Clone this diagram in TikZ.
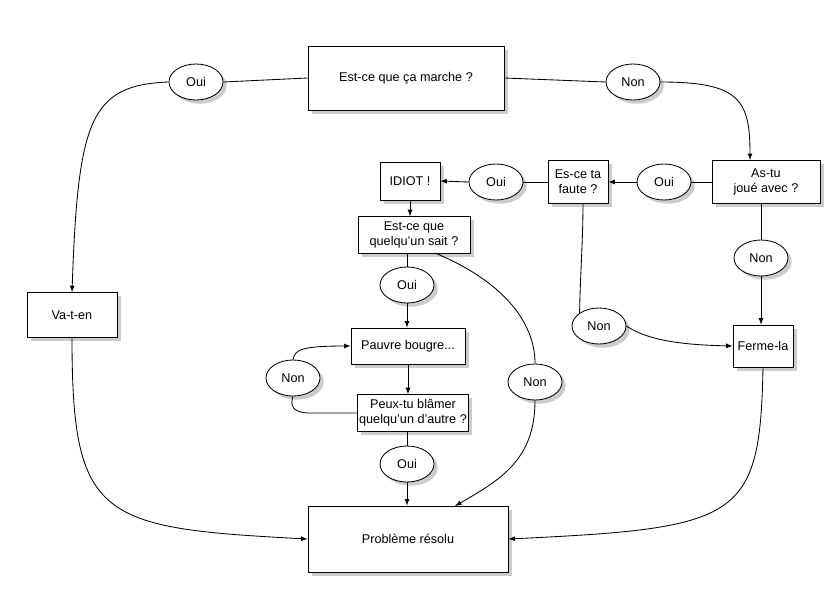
\documentclass[tikz,border=0pt]{standalone}
\usepackage{fontspec}
\setmainfont{Liberation Sans}
\usetikzlibrary{shapes.geometric, shadows}

\begin{document}
\begin{tikzpicture}
            [x=0.025cm, y=-0.025cm, >=latex, semithick, font=\fontsize{9}{10.5}\selectfont,
             box/.style={shape=rectangle, draw=black, fill=white, align=center, drop shadow={opacity=0.4}},
             rep/.style={shape=ellipse, draw=black, fill=white, minimum width=1.35cm, minimum height=0.9cm, inner sep=0pt, drop shadow={opacity=0.4}}]
            \path[use as bounding box, fill=white] (0, 0) rectangle (840, 613);

            \node[box, minimum width=4.9cm, minimum height=1.6cm] (marche) at (406, 78) {Est-ce que ça marche ?};
            \node[box, minimum width=2.7cm, minimum height=1.07cm] (astu) at (766, 182) {As-tu\\ joué avec ?};
            \node[box, minimum width=1.5cm, minimum height=1.07cm] (faute) at (578, 182) {Es-ce ta\\ faute ?};
            \node[box, minimum width=1.5cm, minimum height=0.95cm] (idiot) at (410, 181) {IDIOT !};
            \node[box, minimum width=2.8cm, minimum height=0.92cm, inner sep=1pt] (sait) at (414, 235) {Est-ce que\\ quelqu'un sait ?};
            \node[box, minimum width=2.85cm, minimum height=0.9cm] (pauvre) at (408, 346) {Pauvre bougre...};
            \node[box, minimum width=2.78cm, minimum height=0.92cm, inner sep=1pt] (peux) at (413, 413) {Peux-tu blâmer\\ quelqu'un d'autre ?};
            \node[box, minimum width=5cm, minimum height=1.65cm] (resolu) at (408, 539) {Problème résolu};
            \node[box, minimum width=2.25cm, minimum height=1.12cm] (vaten) at (72, 315) {Va-t-en};
            \node[box, minimum width=1.35cm, minimum height=1.05cm] (ferme) at (763, 346) {Ferme-la};

            \node[rep] (oui1) at (196, 82) {Oui};
            \node[rep] (non1) at (633, 82) {Non};
            \node[rep] (oui2) at (664, 182) {Oui};
            \node[rep] (oui3) at (496, 182) {Oui};
            \node[rep] (oui4) at (407, 285) {Oui};
            \node[rep] (non2) at (293, 378) {Non};
            \node[rep] (oui5) at (407, 464) {Oui};
            \node[rep] (non3) at (761, 258) {Non};
            \node[rep] (non4) at (599, 326) {Non};
            \node[rep] (non5) at (535, 382) {Non};

            \draw (marche.west) -- (oui1.east);
            \draw[->] (oui1.west) .. controls (90, 85) and (78, 120) .. (vaten.north);
            \draw (marche.east) -- (non1.west);
            \draw[->] (non1.east) .. controls (740, 82) and (750, 100) .. (750, 160);
            \draw (astu.west) -- (oui2.east);
            \draw[->] (oui2.west) -- (faute.east);
            \draw (faute.west) -- (oui3.east);
            \draw[->] (oui3.west) -- (idiot.east);
            \draw[->] (idiot.south) -- (sait.north -| idiot.south);
            \draw (sait.south -| oui4.north) -- (oui4.north);
            \draw[->] (oui4.south) -- (pauvre.north -| oui4.south);
            \draw[->] (pauvre.south) -- (peux.north -| pauvre.south);
            \draw (peux.west) -- (310, 413) .. controls (292, 413) and (290, 405) .. (non2.south);
            \draw[->] (non2.north) .. controls (295, 350) and (300, 346) .. (pauvre.west);
            \draw (peux.south -| oui5.north) -- (oui5.north);
            \draw[->] (oui5.south) -- (resolu.north -| oui5.south);
            \draw (435, 253) .. controls (500, 280) and (535, 320) .. (non5.north);
            \draw[->] (non5.south) .. controls (535, 460) and (500, 480) .. (455, 506);
            \draw (583, 203) .. controls (583, 240) and (580, 280) .. (non4.north west);
            \draw[->] (non4.east) .. controls (650, 342) and (690, 345) .. (ferme.west);
            \draw (astu.south -| non3.north) -- (non3.north);
            \draw[->] (non3.south) -- (ferme.north -| non3.south);
            \draw[->] (ferme.south) .. controls (760, 520) and (740, 528) .. (resolu.east);
            \draw[->] (vaten.south) .. controls (72, 520) and (100, 528) .. (resolu.west);
        \end{tikzpicture}
\end{document}
